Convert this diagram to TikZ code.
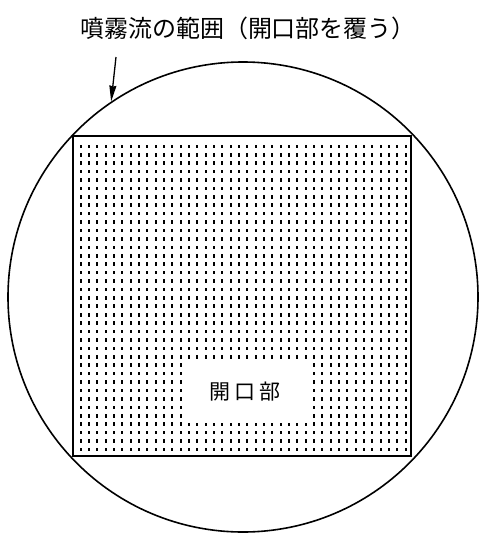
\documentclass[tikz,border=0pt]{standalone}
\usepackage{fontspec}
\newfontfamily\jpfont{Noto Sans CJK JP}
\usetikzlibrary{arrows.meta}

\begin{document}
\begin{tikzpicture}
      [inner sep=0pt,
       rim/.style={circle,draw=black,line width=1.6pt,minimum size=470pt},
       opening/.style={rectangle,draw=black,line width=2pt,minimum width=338pt,minimum height=320pt},
       dot/.style={fill=black},
       openlabel/.style={fill=white,minimum width=125pt,minimum height=61pt,font=\jpfont\fontsize{21}{21}\selectfont},
       caption/.style={font=\jpfont\fontsize{24}{24}\selectfont},
       pointer/.style={line width=1.3pt,-{Stealth[length=16pt,width=7pt,inset=1pt]}}]
      \begin{scope}[x=1pt,y=-1pt]
        \useasboundingbox (0,0) rectangle (481,533);
        \node (spray) at (243,297) [rim] {};
        \node (open) at (242,296) [opening] {};
        \foreach \i in {0,...,39}
          \foreach \j in {0,...,36}
            \fill[dot] ({79.8+8.33*\i},{144.5+8.42*\j}) rectangle ++(1.9,3.6);
        \node (openname) at (245,392) [openlabel] {開\hspace{4pt}口\hspace{4pt}部};
        \node (title) at (248,28) [caption] {噴霧流の範囲（開口部を覆う）};
        \coordinate (tail) at (116,57);
      \end{scope}
        
        \draw[pointer] (tail) -- (spray.124);
      \end{tikzpicture}
\end{document}
